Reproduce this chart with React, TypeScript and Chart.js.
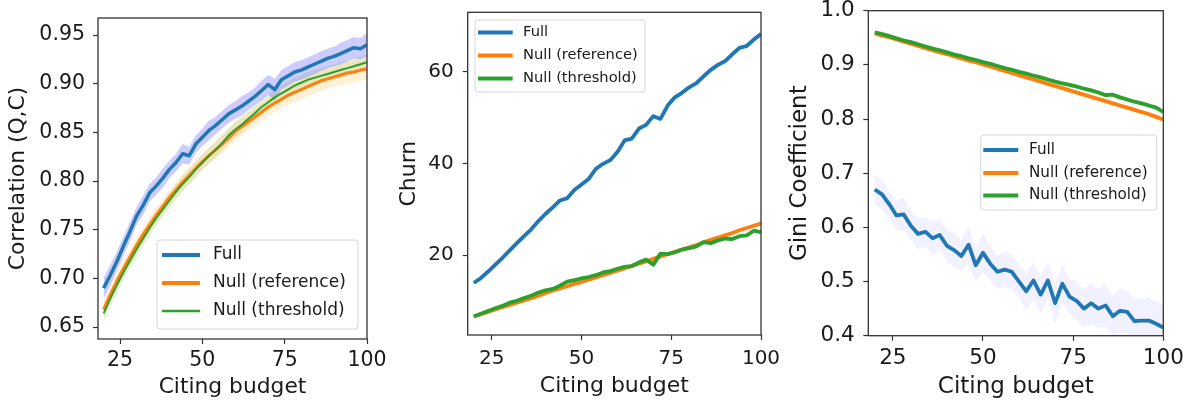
import React, { useEffect, useRef } from "react";
import { Chart, registerables } from "chart.js";

Chart.register(...registerables);

const FONT = "'DejaVu Sans', sans-serif";

// ---------------- data ----------------
const budget = [20, 22, 24, 26, 28, 30, 32, 34, 36, 38, 40, 42, 44, 46, 48, 50, 52, 54, 56, 58, 60, 62, 64, 66, 68, 70, 72, 74, 76, 78, 80, 82, 84, 86, 88, 90, 92, 94, 96, 98, 100];
const budgetTicks = [25, 50, 75, 100];

const seriesLabels = ["Full", "Null (reference)", "Null (threshold)"];

// Correlation (Q,C)
const corrFull = [0.690, 0.703, 0.717, 0.733, 0.748, 0.764, 0.775, 0.788, 0.795, 0.803, 0.812, 0.819, 0.828, 0.826, 0.838, 0.845, 0.852, 0.857, 0.863, 0.869, 0.873, 0.877, 0.882, 0.887, 0.893, 0.899, 0.894, 0.904, 0.908, 0.912, 0.914, 0.917, 0.920, 0.923, 0.926, 0.928, 0.931, 0.934, 0.937, 0.936, 0.940];
const corrRef = [0.668, 0.683, 0.697, 0.710, 0.722, 0.734, 0.745, 0.755, 0.765, 0.774, 0.783, 0.791, 0.799, 0.806, 0.813, 0.820, 0.826, 0.832, 0.838, 0.844, 0.851, 0.856, 0.861, 0.866, 0.871, 0.876, 0.880, 0.884, 0.888, 0.891, 0.894, 0.897, 0.900, 0.903, 0.905, 0.907, 0.909, 0.911, 0.912, 0.914, 0.915];
const corrThr = [0.664, 0.679, 0.693, 0.706, 0.718, 0.730, 0.741, 0.752, 0.762, 0.771, 0.780, 0.789, 0.797, 0.804, 0.812, 0.819, 0.826, 0.832, 0.839, 0.847, 0.853, 0.858, 0.864, 0.870, 0.876, 0.881, 0.886, 0.890, 0.894, 0.898, 0.901, 0.904, 0.906, 0.908, 0.910, 0.912, 0.914, 0.916, 0.918, 0.920, 0.922];
const corrFullSpread = [0.011, 0.011, 0.010, 0.010, 0.010, 0.009, 0.010, 0.009, 0.009, 0.010, 0.009, 0.009, 0.010, 0.009, 0.009, 0.009, 0.010, 0.009, 0.009, 0.009, 0.009, 0.010, 0.009, 0.009, 0.010, 0.010, 0.011, 0.010, 0.010, 0.010, 0.010, 0.010, 0.010, 0.010, 0.010, 0.010, 0.011, 0.011, 0.011, 0.011, 0.012];
const corrRefSpread = [0.008, 0.008, 0.008, 0.008, 0.008, 0.008, 0.008, 0.008, 0.008, 0.008, 0.008, 0.008, 0.008, 0.008, 0.008, 0.008, 0.008, 0.009, 0.009, 0.009, 0.009, 0.009, 0.009, 0.009, 0.009, 0.009, 0.009, 0.009, 0.010, 0.010, 0.010, 0.010, 0.010, 0.010, 0.010, 0.010, 0.011, 0.011, 0.011, 0.011, 0.011];
const corrThrSpread = [0.008, 0.008, 0.008, 0.008, 0.008, 0.008, 0.008, 0.008, 0.008, 0.008, 0.008, 0.008, 0.008, 0.008, 0.008, 0.008, 0.008, 0.008, 0.008, 0.008, 0.008, 0.008, 0.008, 0.008, 0.008, 0.008, 0.008, 0.008, 0.008, 0.008, 0.008, 0.008, 0.008, 0.008, 0.008, 0.008, 0.008, 0.008, 0.008, 0.008, 0.008];
const corrTicks = [0.65, 0.7, 0.75, 0.8, 0.85, 0.9, 0.95];

// Churn
const churnFull = [13.9, 15.0, 16.4, 17.9, 19.4, 21.0, 22.6, 24.1, 25.6, 27.4, 29.0, 30.4, 31.9, 32.4, 34.2, 35.4, 36.6, 38.8, 39.9, 40.7, 42.5, 45.0, 45.4, 47.6, 48.4, 50.3, 49.7, 52.6, 54.4, 55.4, 56.6, 57.5, 59.0, 60.4, 61.5, 62.3, 63.8, 65.2, 65.6, 67.0, 68.2];
const churnRef = [6.6, 7.1, 7.6, 8.1, 8.6, 9.1, 9.6, 10.1, 10.6, 11.1, 11.7, 12.2, 12.7, 13.2, 13.7, 14.1, 14.6, 15.1, 15.6, 16.1, 16.6, 17.1, 17.6, 18.1, 18.6, 19.2, 19.7, 20.2, 20.7, 21.2, 21.7, 22.2, 22.8, 23.3, 23.8, 24.3, 24.8, 25.4, 25.9, 26.4, 26.9];
const churnThr = [6.6, 7.2, 7.8, 8.4, 8.9, 9.6, 10.0, 10.6, 11.1, 11.8, 12.3, 12.6, 13.3, 14.2, 14.5, 14.9, 15.2, 15.6, 16.2, 16.5, 17.0, 17.4, 17.6, 18.4, 19.0, 17.9, 20.3, 20.2, 20.6, 21.2, 21.5, 21.9, 22.8, 22.6, 23.2, 23.6, 23.5, 24.1, 24.3, 25.3, 25.0];
const churnFullSpread = [0.6, 0.6, 0.6, 0.6, 0.6, 0.6, 0.6, 0.6, 0.6, 0.6, 0.6, 0.6, 0.6, 0.6, 0.6, 0.6, 0.6, 0.6, 0.6, 0.6, 0.6, 0.6, 0.6, 0.6, 0.6, 0.7, 0.7, 0.7, 0.7, 0.7, 0.7, 0.7, 0.7, 0.7, 0.7, 0.7, 0.7, 0.7, 0.7, 0.7, 0.7];
const churnRefSpread = [0.3, 0.3, 0.3, 0.3, 0.3, 0.3, 0.3, 0.3, 0.3, 0.3, 0.3, 0.3, 0.3, 0.3, 0.3, 0.3, 0.3, 0.3, 0.3, 0.3, 0.3, 0.3, 0.3, 0.3, 0.3, 0.3, 0.3, 0.3, 0.3, 0.3, 0.3, 0.3, 0.3, 0.3, 0.3, 0.3, 0.3, 0.3, 0.3, 0.3, 0.3];
const churnThrSpread = [0.4, 0.4, 0.4, 0.4, 0.4, 0.4, 0.4, 0.4, 0.4, 0.4, 0.4, 0.4, 0.4, 0.4, 0.4, 0.4, 0.4, 0.4, 0.4, 0.4, 0.4, 0.4, 0.4, 0.4, 0.4, 0.4, 0.4, 0.4, 0.4, 0.4, 0.4, 0.4, 0.4, 0.4, 0.4, 0.4, 0.4, 0.4, 0.4, 0.4, 0.4];
const churnTicks = [20, 40, 60];

// Gini coefficient
const giniFull = [0.670, 0.661, 0.643, 0.622, 0.624, 0.603, 0.588, 0.592, 0.580, 0.586, 0.566, 0.558, 0.547, 0.568, 0.530, 0.553, 0.533, 0.518, 0.522, 0.518, 0.500, 0.482, 0.502, 0.476, 0.502, 0.460, 0.496, 0.472, 0.464, 0.450, 0.460, 0.450, 0.456, 0.436, 0.446, 0.444, 0.427, 0.428, 0.428, 0.422, 0.415];
const giniRef = [0.958, 0.954, 0.951, 0.947, 0.943, 0.939, 0.935, 0.931, 0.927, 0.923, 0.920, 0.916, 0.912, 0.908, 0.905, 0.901, 0.897, 0.893, 0.889, 0.885, 0.881, 0.877, 0.873, 0.869, 0.865, 0.861, 0.857, 0.853, 0.849, 0.845, 0.841, 0.837, 0.833, 0.829, 0.825, 0.821, 0.817, 0.813, 0.809, 0.804, 0.799];
const giniThr = [0.960, 0.957, 0.953, 0.949, 0.945, 0.942, 0.938, 0.934, 0.930, 0.927, 0.923, 0.919, 0.916, 0.912, 0.909, 0.905, 0.902, 0.898, 0.894, 0.891, 0.887, 0.884, 0.880, 0.877, 0.873, 0.869, 0.866, 0.863, 0.860, 0.856, 0.853, 0.849, 0.844, 0.845, 0.840, 0.836, 0.832, 0.829, 0.825, 0.821, 0.813];
const giniFullSpread = [0.026, 0.028, 0.025, 0.027, 0.030, 0.026, 0.029, 0.027, 0.031, 0.028, 0.030, 0.032, 0.029, 0.034, 0.030, 0.036, 0.031, 0.030, 0.033, 0.032, 0.030, 0.035, 0.033, 0.036, 0.034, 0.038, 0.035, 0.033, 0.036, 0.034, 0.038, 0.036, 0.040, 0.037, 0.041, 0.039, 0.042, 0.040, 0.043, 0.041, 0.044];
const giniRefSpread = [0.004, 0.004, 0.004, 0.004, 0.004, 0.004, 0.004, 0.004, 0.004, 0.004, 0.004, 0.004, 0.004, 0.004, 0.004, 0.004, 0.004, 0.004, 0.004, 0.004, 0.004, 0.004, 0.004, 0.004, 0.004, 0.004, 0.004, 0.004, 0.004, 0.004, 0.004, 0.004, 0.004, 0.004, 0.004, 0.004, 0.004, 0.004, 0.004, 0.004, 0.004];
const giniThrSpread = [0.004, 0.004, 0.004, 0.004, 0.004, 0.004, 0.004, 0.004, 0.004, 0.004, 0.004, 0.004, 0.004, 0.004, 0.004, 0.004, 0.004, 0.004, 0.004, 0.004, 0.004, 0.004, 0.004, 0.004, 0.004, 0.004, 0.004, 0.004, 0.004, 0.004, 0.004, 0.004, 0.004, 0.004, 0.004, 0.004, 0.004, 0.004, 0.004, 0.004, 0.004];
const giniTicks = [0.4, 0.5, 0.6, 0.7, 0.8, 0.9, 1.0];

// ---------------- styles ----------------
const BLUE = "#1f77b4";
const ORANGE = "#ff7f0e";
const GREEN = "#2ca02c";
const TEXT = "#1a1a1a";
const AXIS = "#333333";

type Series = { label: string; values: number[]; spread: number[]; color: string; band: string; width: number };
type LegendCfg = { boxX: number; boxY: number; boxW: number; boxH: number; lineX0: number; lineX1: number; textX: number; rows: number[]; font: number; widths: number[] };
type PanelCfg = {
  left: number; width: number;
  yTitle: string; yMin: number; yMax: number; yTicks: number[]; decimals: number;
  xMin: number; xMax: number;
  yAxisWidth: number; xAxisHeight: number; padTop: number; padRight: number;
  tickFont: number; titleFont: number; xTickPad: number; xTitlePad: number; yTitlePad: number; yTickPad: number;
  legend: LegendCfg; series: Series[];
};

const panels: PanelCfg[] = [
  {
    left: 0, width: 395,
    yTitle: "Correlation (Q,C)", yMin: 0.6377, yMax: 0.9675, yTicks: corrTicks, decimals: 2,
    xMin: 18.3, xMax: 100,
    yAxisWidth: 98, xAxisHeight: 63, padTop: 18, padRight: 28,
    tickFont: 20.5, titleFont: 21.8, xTickPad: 4.5, xTitlePad: 1.4, yTitlePad: 5.2, yTickPad: 8,
    legend: { boxX: 157, boxY: 240, boxW: 201, boxH: 89, lineX0: 162, lineX1: 200, textX: 213, rows: [255, 283, 311], font: 17, widths: [4, 4, 2.5] },
    series: [
      { label: seriesLabels[0], values: corrFull, spread: corrFullSpread, color: BLUE, band: "rgba(0,0,255,0.2)", width: 3.5 },
      { label: seriesLabels[1], values: corrRef, spread: corrRefSpread, color: ORANGE, band: "rgba(255,170,30,0.18)", width: 3 },
      { label: seriesLabels[2], values: corrThr, spread: corrThrSpread, color: GREEN, band: "rgba(120,170,60,0.18)", width: 2 },
    ],
  },
  {
    left: 395, width: 390,
    yTitle: "Churn", yMin: 2.55, yMax: 72.96, yTicks: churnTicks, decimals: 0,
    xMin: 18.3, xMax: 100,
    yAxisWidth: 72.7, xAxisHeight: 67, padTop: 12.3, padRight: 24,
    tickFont: 20, titleFont: 22, xTickPad: 6.5, xTitlePad: 2.8, yTitlePad: 1, yTickPad: 9,
    legend: { boxX: 80, boxY: 20, boxW: 170, boxH: 72, lineX0: 83, lineX1: 117.7, textX: 128, rows: [32.5, 55.5, 78.5], font: 14.7, widths: [4, 4, 4] },
    series: [
      { label: seriesLabels[0], values: churnFull, spread: churnFullSpread, color: BLUE, band: "rgba(0,0,255,0.06)", width: 3.8 },
      { label: seriesLabels[1], values: churnRef, spread: churnRefSpread, color: ORANGE, band: "rgba(255,165,0,0.2)", width: 3.8 },
      { label: seriesLabels[2], values: churnThr, spread: churnThrSpread, color: GREEN, band: "rgba(44,160,44,0.15)", width: 3.8 },
    ],
  },
  {
    left: 785, width: 408,
    yTitle: "Gini Coefficient", yMin: 0.4, yMax: 1.0, yTicks: giniTicks, decimals: 1,
    xMin: 18.2, xMax: 100,
    yAxisWidth: 83.3, xAxisHeight: 66.3, padTop: 10.7, padRight: 29.7,
    tickFont: 21.5, titleFont: 23, xTickPad: 5, xTitlePad: 1.4, yTitlePad: 0.9, yTickPad: 8.5,
    legend: { boxX: 195.7, boxY: 135, boxW: 176, boxH: 75, lineX0: 198.3, lineX1: 233.3, textX: 244, rows: [150, 173, 195.5], font: 15.2, widths: [3.8, 3.8, 3.8] },
    series: [
      { label: seriesLabels[0], values: giniFull, spread: giniFullSpread, color: BLUE, band: "rgba(0,0,255,0.055)", width: 3.8 },
      { label: seriesLabels[1], values: giniRef, spread: giniRefSpread, color: ORANGE, band: "rgba(255,165,0,0.2)", width: 3.8 },
      { label: seriesLabels[2], values: giniThr, spread: giniThrSpread, color: GREEN, band: "rgba(44,160,44,0.15)", width: 3.8 },
    ],
  },
];

// ---------------- plugins ----------------
const framePlugin = {
  id: "frame",
  afterDatasetsDraw(chart: any) {
    const { ctx, chartArea } = chart;
    const { left, top, right, bottom } = chartArea;
    ctx.save();
    ctx.strokeStyle = AXIS;
    ctx.lineWidth = 1.3;
    ctx.strokeRect(left, top, right - left, bottom - top);
    ctx.restore();
  },
};

function makeLegendPlugin(p: PanelCfg) {
  return {
    id: "boxLegend",
    afterDraw(chart: any) {
      const ctx = chart.ctx as CanvasRenderingContext2D;
      const L = p.legend;
      ctx.save();
      const r = 3;
      ctx.beginPath();
      ctx.moveTo(L.boxX + r, L.boxY);
      ctx.lineTo(L.boxX + L.boxW - r, L.boxY);
      ctx.arcTo(L.boxX + L.boxW, L.boxY, L.boxX + L.boxW, L.boxY + r, r);
      ctx.lineTo(L.boxX + L.boxW, L.boxY + L.boxH - r);
      ctx.arcTo(L.boxX + L.boxW, L.boxY + L.boxH, L.boxX + L.boxW - r, L.boxY + L.boxH, r);
      ctx.lineTo(L.boxX + r, L.boxY + L.boxH);
      ctx.arcTo(L.boxX, L.boxY + L.boxH, L.boxX, L.boxY + L.boxH - r, r);
      ctx.lineTo(L.boxX, L.boxY + r);
      ctx.arcTo(L.boxX, L.boxY, L.boxX + r, L.boxY, r);
      ctx.closePath();
      ctx.fillStyle = "rgba(255,255,255,0.8)";
      ctx.fill();
      ctx.strokeStyle = "#d6d6d6";
      ctx.lineWidth = 1;
      ctx.stroke();
      p.series.forEach((s, i) => {
        const y = L.rows[i];
        ctx.beginPath();
        ctx.moveTo(L.lineX0, y);
        ctx.lineTo(L.lineX1, y);
        ctx.strokeStyle = s.color;
        ctx.lineWidth = L.widths[i];
        ctx.lineCap = "butt";
        ctx.stroke();
        ctx.fillStyle = TEXT;
        ctx.font = `${L.font}px ${FONT}`;
        ctx.textBaseline = "middle";
        ctx.textAlign = "left";
        ctx.fillText(s.label, L.textX, y);
      });
      ctx.restore();
    },
  };
}

function buildConfig(p: PanelCfg): any {
  const datasets: any[] = [];
  p.series.forEach((s, i) => {
    datasets.push({
      data: budget.map((x, k) => ({ x, y: s.values[k] + s.spread[k] })),
      borderWidth: 0, borderColor: "rgba(0,0,0,0)", pointRadius: 0, fill: false, order: 20 + i,
    });
    datasets.push({
      data: budget.map((x, k) => ({ x, y: s.values[k] - s.spread[k] })),
      borderWidth: 0, borderColor: "rgba(0,0,0,0)", pointRadius: 0, fill: "-1", backgroundColor: s.band, order: 20 + i,
    });
  });
  p.series.forEach((s, i) => {
    datasets.push({
      label: s.label,
      data: budget.map((x, k) => ({ x, y: s.values[k] })),
      borderColor: s.color, borderWidth: s.width, pointRadius: 0, fill: false,
      tension: 0, borderJoinStyle: "round", borderCapStyle: "butt", order: 10 - i,
    });
  });

  const tickFont = { family: FONT, size: p.tickFont };
  const titleFont = { family: FONT, size: p.titleFont };

  return {
    type: "line",
    data: { datasets },
    options: {
      responsive: false,
      animation: false,
      devicePixelRatio: 1,
      events: [],
      layout: { padding: { top: p.padTop, right: p.padRight, left: 0, bottom: 0 } },
      plugins: { legend: { display: false }, tooltip: { enabled: false } },
      scales: {
        x: {
          type: "linear", min: p.xMin, max: p.xMax, offset: false,
          afterBuildTicks: (sc: any) => { sc.ticks = budgetTicks.map((v) => ({ value: v })); },
          afterFit: (sc: any) => { sc.height = p.xAxisHeight; sc.paddingLeft = 0; sc.paddingRight = 0; },
          ticks: { font: tickFont, color: TEXT, padding: p.xTickPad, maxRotation: 0, autoSkip: false, callback: (v: any) => String(v) },
          grid: { drawOnChartArea: false, drawTicks: true, tickLength: 5, color: AXIS, tickWidth: 1.2 },
          border: { display: false },
          title: { display: true, text: "Citing budget", font: titleFont, color: TEXT, padding: { top: 0, bottom: p.xTitlePad } },
        },
        y: {
          type: "linear", min: p.yMin, max: p.yMax,
          afterBuildTicks: (sc: any) => { sc.ticks = p.yTicks.map((v) => ({ value: v })); },
          afterFit: (sc: any) => { sc.width = p.yAxisWidth; sc.paddingTop = 0; sc.paddingBottom = 0; },
          ticks: { font: tickFont, color: TEXT, padding: p.yTickPad, autoSkip: false, callback: (v: any) => Number(v).toFixed(p.decimals) },
          grid: { drawOnChartArea: false, drawTicks: true, tickLength: 5, color: AXIS, tickWidth: 1.2 },
          border: { display: false },
          title: { display: true, text: p.yTitle, font: titleFont, color: TEXT, padding: { top: p.yTitlePad, bottom: 0 } },
        },
      },
    },
    plugins: [framePlugin, makeLegendPlugin(p)],
  };
}

function Panel({ cfg }: { cfg: PanelCfg }) {
  const ref = useRef<HTMLCanvasElement>(null);
  useEffect(() => {
    const chart = new Chart(ref.current as HTMLCanvasElement, buildConfig(cfg));
    return () => chart.destroy();
  }, [cfg]);
  return (
    <canvas
      ref={ref}
      width={cfg.width}
      height={402}
      style={{ position: "absolute", left: cfg.left, top: 0, width: cfg.width, height: 402 }}
    />
  );
}

export default function App() {
  return (
    <div style={{ position: "absolute", left: 0, top: 0, width: 1193, height: 402, background: "#ffffff", overflow: "hidden" }}>
      {panels.map((p, i) => (
        <Panel key={i} cfg={p} />
      ))}
    </div>
  );
}
